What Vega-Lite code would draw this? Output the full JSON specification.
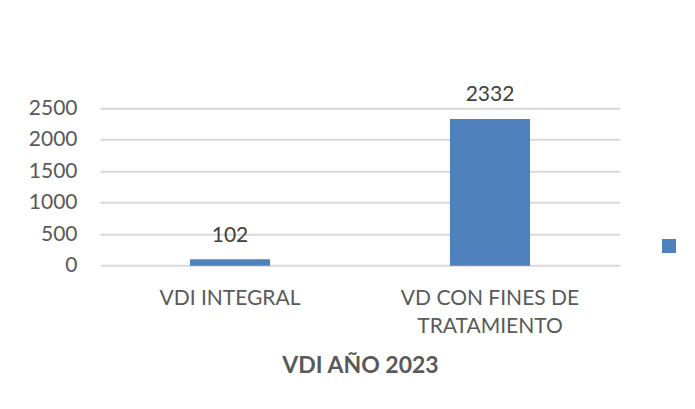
{
  "$schema": "https://vega.github.io/schema/vega-lite/v6.json",
  "width": 520,
  "height": 157.4,
  "autosize": {"type": "none"},
  "padding": {"left": 100, "top": 108.3, "right": 75, "bottom": 143.3},
  "background": "white",
  "config": {"view": {"stroke": null}, "font": "Lato"},
  "data": {
    "values": [
      {"categoria": "VDI INTEGRAL", "valor": 102, "serie": "Serie1"},
      {"categoria": "VD CON FINES DE TRATAMIENTO", "valor": 2332, "serie": "Serie1"}
    ]
  },
  "encoding": {
    "x": {
      "field": "categoria",
      "type": "nominal",
      "sort": null,
      "scale": {"paddingInner": 0.692, "paddingOuter": 0.346},
      "axis": {
        "title": "VDI AÑO 2023",
        "labelAngle": 0,
        "domain": false,
        "ticks": false,
        "labelFont": "Lato",
        "labelFontSize": 21,
        "labelColor": "#595959",
        "labelBaseline": "alphabetic",
        "labelPadding": 38.3,
        "labelLineHeight": 28,
        "labelLimit": 0,
        "labelExpr": "datum.label == 'VD CON FINES DE TRATAMIENTO' ? ['VD CON FINES DE', 'TRATAMIENTO'] : datum.label",
        "titleFont": "Lato",
        "titleFontSize": 23,
        "titleFontWeight": "bold",
        "titleColor": "#595959",
        "titleBaseline": "alphabetic",
        "titleX": 260,
        "titleY": 106.3
      }
    },
    "y": {
      "field": "valor",
      "type": "quantitative",
      "scale": {"domain": [0, 2500], "nice": false},
      "axis": {
        "title": null,
        "values": [0, 500, 1000, 1500, 2000, 2500],
        "format": "d",
        "grid": true,
        "gridColor": "#D9D9D9",
        "gridWidth": 2,
        "domain": false,
        "ticks": false,
        "labelPadding": 23,
        "labelFont": "Lato",
        "labelFontSize": 21,
        "labelColor": "#595959"
      }
    }
  },
  "layer": [
    {
      "mark": {"type": "bar"},
      "encoding": {
        "color": {
          "field": "serie",
          "type": "nominal",
          "scale": {"range": ["#4F81BD"]},
          "legend": {
            "title": null,
            "orient": "none",
            "legendX": 562,
            "legendY": 130.7,
            "symbolType": "square",
            "symbolSize": 196,
            "symbolStrokeWidth": 0,
            "symbolOpacity": 1,
            "labelExpr": "''",
            "padding": 0
          }
        }
      }
    },
    {
      "mark": {"type": "text", "baseline": "alphabetic", "dy": -17.6, "fontSize": 21, "font": "Lato", "color": "#404040"},
      "encoding": {"text": {"field": "valor", "type": "quantitative", "format": "d"}}
    }
  ]
}
